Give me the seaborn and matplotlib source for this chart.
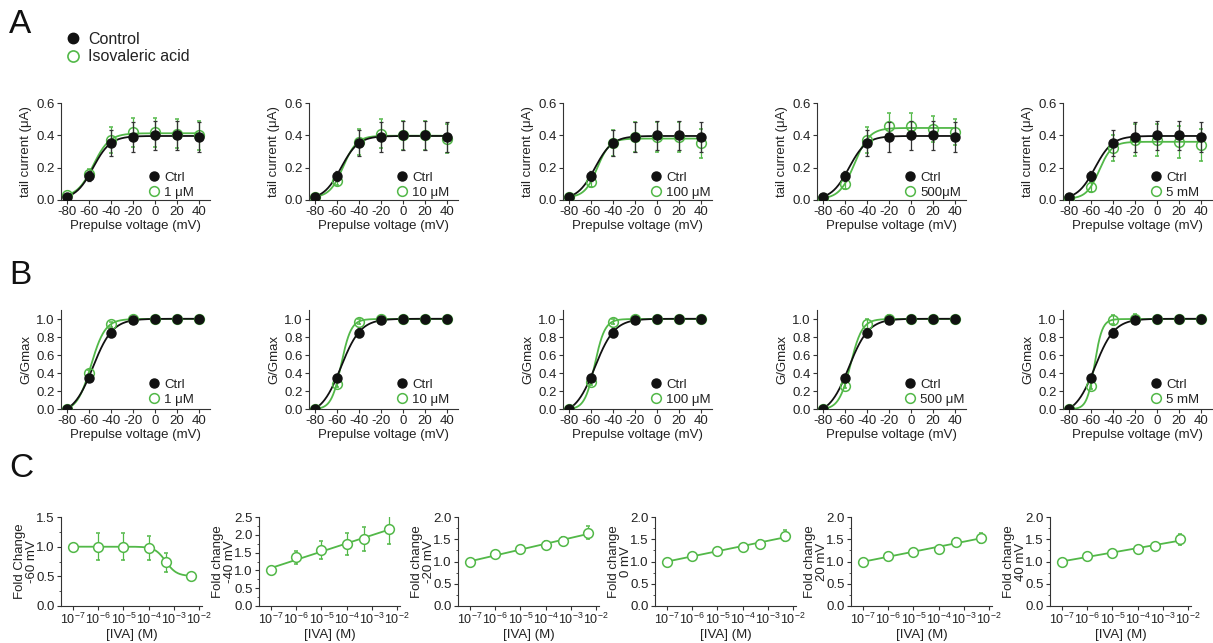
import numpy as np
import pandas as pd
import matplotlib
matplotlib.use("Agg")
import matplotlib.pyplot as plt
from matplotlib.lines import Line2D
from matplotlib.ticker import LogLocator, AutoMinorLocator, FixedLocator, NullFormatter
import seaborn as sns

# ---------------------------------------------------------------- data
VOLTAGES = [-80, -60, -40, -20, 0, 20, 40]

# A: tail currents (uA), mean and SEM
ctrl_current = [0.02, 0.15, 0.35, 0.39, 0.40, 0.40, 0.39]
ctrl_current_err = [0.01, 0.03, 0.08, 0.09, 0.09, 0.09, 0.09]
iva_1uM_current = [0.03, 0.16, 0.37, 0.42, 0.42, 0.41, 0.40]
iva_10uM_current = [0.02, 0.12, 0.36, 0.41, 0.40, 0.40, 0.38]
iva_100uM_current = [0.02, 0.11, 0.35, 0.39, 0.39, 0.39, 0.35]
iva_500uM_current = [0.01, 0.10, 0.37, 0.46, 0.46, 0.44, 0.42]
iva_5mM_current = [0.01, 0.08, 0.32, 0.37, 0.37, 0.36, 0.34]
iva_1uM_current_err = [0.01, 0.03, 0.08, 0.09, 0.09, 0.09, 0.09]
iva_10uM_current_err = [0.01, 0.03, 0.08, 0.09, 0.09, 0.09, 0.09]
iva_100uM_current_err = [0.01, 0.03, 0.08, 0.09, 0.09, 0.09, 0.09]
iva_500uM_current_err = [0.01, 0.03, 0.08, 0.08, 0.08, 0.08, 0.08]
iva_5mM_current_err = [0.01, 0.03, 0.08, 0.10, 0.10, 0.10, 0.10]

# B: normalised conductance
ctrl_g = [0.0, 0.35, 0.85, 0.99, 1.0, 1.0, 1.0]
ctrl_g_err = [0.0, 0.04, 0.05, 0.02, 0.01, 0.0, 0.0]
iva_1uM_g = [0.0, 0.40, 0.94, 1.0, 1.0, 1.0, 1.0]
iva_10uM_g = [0.0, 0.28, 0.97, 1.0, 1.0, 1.0, 1.0]
iva_100uM_g = [0.0, 0.30, 0.97, 1.0, 1.0, 1.0, 1.0]
iva_500uM_g = [0.0, 0.26, 0.94, 1.0, 1.0, 1.0, 1.0]
iva_5mM_g = [0.0, 0.26, 0.99, 1.0, 1.0, 1.0, 1.0]
iva_1uM_g_err = [0.0, 0.03, 0.03, 0.01, 0.0, 0.0, 0.0]
iva_10uM_g_err = [0.0, 0.03, 0.03, 0.02, 0.02, 0.0, 0.0]
iva_100uM_g_err = [0.0, 0.03, 0.03, 0.03, 0.03, 0.0, 0.0]
iva_500uM_g_err = [0.0, 0.03, 0.06, 0.05, 0.02, 0.0, 0.0]
iva_5mM_g_err = [0.0, 0.04, 0.05, 0.06, 0.03, 0.0, 0.0]

A_LABELS = ["1 μM", "10 μM", "100 μM", "500μM", "5 mM"]
B_LABELS = ["1 μM", "10 μM", "100 μM", "500 μM", "5 mM"]

# C: fold change vs isovaleric acid concentration
IVA_CONC = [1e-7, 1e-6, 1e-5, 1e-4, 5e-4, 5e-3]
fold_m60 = [1.0, 1.0, 1.0, 0.98, 0.74, 0.51]
fold_m60_err = [0.0, 0.23, 0.23, 0.20, 0.16, 0.02]
fold_m40 = [1.0, 1.37, 1.58, 1.73, 1.88, 2.16]
fold_m40_err = [0.0, 0.18, 0.25, 0.31, 0.34, 0.43]
fold_m20 = [1.0, 1.16, 1.27, 1.37, 1.47, 1.65]
fold_m20_err = [0.0, 0.03, 0.06, 0.08, 0.09, 0.14]
fold_0 = [1.0, 1.13, 1.24, 1.32, 1.40, 1.58]
fold_0_err = [0.0, 0.03, 0.04, 0.06, 0.08, 0.12]
fold_20 = [1.0, 1.12, 1.21, 1.29, 1.44, 1.53]
fold_20_err = [0.0, 0.03, 0.04, 0.06, 0.08, 0.12]
fold_40 = [1.0, 1.12, 1.20, 1.29, 1.34, 1.50]
fold_40_err = [0.0, 0.03, 0.04, 0.05, 0.06, 0.12]
C_YLABELS = ["Fold Change\n-60 mV", "Fold change\n-40 mV", "Fold change\n-20 mV",
             "Fold change\n0 mV", "Fold change\n20 mV", "Fold change\n40 mV"]
C_YMAX = [1.5, 2.5, 2.0, 2.0, 2.0, 2.0]

# ---------------------------------------------------------------- style
GREEN = "#52b848"
BLACK = "#111111"
TEXT = "#222222"

sns.set_theme(style="ticks")
plt.rcParams["font.family"] = ["Liberation Sans", "DejaVu Sans"]
plt.rcParams.update({
    "axes.unicode_minus": False,
    "mathtext.fontset": "custom",
    "mathtext.rm": "Liberation Sans",
    "mathtext.it": "Liberation Sans:italic",
    "font.size": 9,
    "axes.linewidth": 0.8,
    "axes.edgecolor": "#333333",
    "axes.labelcolor": TEXT,
    "text.color": TEXT,
    "xtick.color": "#333333",
    "ytick.color": "#333333",
    "xtick.labelcolor": TEXT,
    "ytick.labelcolor": TEXT,
    "xtick.major.size": 3,
    "ytick.major.size": 3,
    "xtick.major.width": 0.8,
    "ytick.major.width": 0.8,
    "xtick.major.pad": 1.5,
    "ytick.major.pad": 1.5,
    "xtick.labelsize": 9.5,
    "ytick.labelsize": 9.5,
    "axes.labelsize": 9.5,
})


# ---------------------------------------------------------------- fits
def fit_boltzmann(v, y):
    v = np.asarray(v, float)
    y = np.asarray(y, float)
    v50 = np.arange(-75, -35, 0.2)[:, None, None]
    k = np.arange(2, 16, 0.1)[None, :, None]
    s = 1.0 / (1.0 + np.exp((v50 - v[None, None, :]) / k))
    sm = s.mean(-1)
    ym = y.mean()
    c = ((s - sm[..., None]) * (y - ym)).sum(-1) / ((s - sm[..., None]) ** 2).sum(-1)
    a = ym - c * sm
    resid = ((a[..., None] + c[..., None] * s - y) ** 2).sum(-1)
    i, j = np.unravel_index(resid.argmin(), resid.shape)
    p = (v50[i, 0, 0], k[0, j, 0], a[i, j], c[i, j])
    return lambda x: p[2] + p[3] / (1.0 + np.exp((p[0] - x) / p[1]))


def fit_dose_response(conc, y):
    lx = np.log10(np.asarray(conc, float))
    y = np.asarray(y, float)
    lic = np.arange(-5.5, -1.5, 0.02)[:, None, None]
    h = np.arange(0.3, 4.0, 0.02)[None, :, None]
    s = 1.0 / (1.0 + 10 ** ((lx[None, None, :] - lic) * h))
    sm = s.mean(-1)
    ym = y.mean()
    c = ((s - sm[..., None]) * (y - ym)).sum(-1) / ((s - sm[..., None]) ** 2).sum(-1)
    a = ym - c * sm
    resid = ((a[..., None] + c[..., None] * s - y) ** 2).sum(-1)
    i, j = np.unravel_index(resid.argmin(), resid.shape)
    p = (lic[i, 0, 0], h[0, j, 0], a[i, j], c[i, j])
    return lambda x: p[2] + p[3] / (1.0 + 10 ** ((np.log10(x) - p[0]) * p[1]))


def fit_loglinear(conc, y):
    coef = np.polyfit(np.log10(conc), y, 1)
    return lambda x: np.polyval(coef, np.log10(x))


# ---------------------------------------------------------------- figure
W, H = 1213, 643
fig = plt.figure(figsize=(W / 100, H / 100), dpi=100)


def add_ax(left, top, bottom, width):
    return fig.add_axes([left / W, 1 - bottom / H, width / W, (bottom - top) / H])


def style_axes(ax):
    sns.despine(ax=ax)
    ax.tick_params(direction="out")


ROW_LEFTS = [61, 309, 563, 817, 1063]
v_fine = np.linspace(-80, 40, 300)


def voltage_panel(ax, ctrl, ctrl_err, trt, trt_err, label, ylim, yticks, ylabel, leg_y):
    f_trt = fit_boltzmann(VOLTAGES, trt)
    f_ctrl = fit_boltzmann(VOLTAGES, ctrl)
    sns.lineplot(x=v_fine, y=f_trt(v_fine), ax=ax, color=GREEN, lw=1.3, zorder=2)
    sns.lineplot(x=v_fine, y=f_ctrl(v_fine), ax=ax, color=BLACK, lw=1.3, zorder=3)
    ax.errorbar(VOLTAGES, trt, yerr=trt_err, fmt="o", ms=7, mfc="none", mec=GREEN,
                mew=1.1, ecolor=GREEN, elinewidth=0.9, capsize=1.5, capthick=0.9, zorder=4)
    ax.errorbar(VOLTAGES, ctrl, yerr=ctrl_err, fmt="o", ms=6.5, mfc=BLACK, mec=BLACK,
                ecolor="#333333", elinewidth=0.9, capsize=1.5, capthick=0.9, zorder=5)
    ax.set_xlim(-85, 50)
    ax.set_ylim(*ylim)
    ax.set_xticks(VOLTAGES)
    ax.set_xticklabels([str(v) for v in VOLTAGES])
    ax.set_yticks(yticks)
    ax.set_yticklabels([f"{t:.1f}" for t in yticks])
    ax.set_xlabel("Prepulse voltage (mV)", labelpad=1)
    ax.set_ylabel(ylabel, labelpad=3)
    handles = [
        Line2D([], [], ls="none", marker="o", ms=6.5, mfc=BLACK, mec=BLACK),
        Line2D([], [], ls="none", marker="o", ms=7, mfc="none", mec=GREEN, mew=1.1),
    ]
    ax.legend(handles, ["Ctrl", label], loc="lower left", bbox_to_anchor=(0.52, leg_y),
              frameon=False, handlelength=0.9, handletextpad=0.35, labelspacing=0.2,
              borderpad=0.2, fontsize=9.5)
    style_axes(ax)


# Row A
a_trt = [iva_1uM_current, iva_10uM_current, iva_100uM_current, iva_500uM_current, iva_5mM_current]
a_err = [iva_1uM_current_err, iva_10uM_current_err, iva_100uM_current_err,
         iva_500uM_current_err, iva_5mM_current_err]
for left, trt, err, lab in zip(ROW_LEFTS, a_trt, a_err, A_LABELS):
    ax = add_ax(left, 103, 200, 149)
    voltage_panel(ax, ctrl_current, ctrl_current_err, trt, err, lab,
                  (0, 0.6), [0.0, 0.2, 0.4, 0.6], "tail current (μA)", -0.08)

# Row B
b_trt = [iva_1uM_g, iva_10uM_g, iva_100uM_g, iva_500uM_g, iva_5mM_g]
b_err = [iva_1uM_g_err, iva_10uM_g_err, iva_100uM_g_err, iva_500uM_g_err, iva_5mM_g_err]
for left, trt, err, lab in zip(ROW_LEFTS, b_trt, b_err, B_LABELS):
    ax = add_ax(left, 310, 409, 149)
    voltage_panel(ax, ctrl_g, ctrl_g_err, trt, err, lab,
                  (0, 1.1), [0.0, 0.2, 0.4, 0.6, 0.8, 1.0], "G/Gmax", -0.06)

# Row C
c_vals = [fold_m60, fold_m40, fold_m20, fold_0, fold_20, fold_40]
c_errs = [fold_m60_err, fold_m40_err, fold_m20_err, fold_0_err, fold_20_err, fold_40_err]
C_LEFTS = [61, 259, 458, 655, 851, 1050]
c_fine = np.logspace(-7, np.log10(5e-3), 300)
for idx, (left, vals, errs, ylab, ymax) in enumerate(zip(C_LEFTS, c_vals, c_errs, C_YLABELS, C_YMAX)):
    ax = add_ax(left, 517, 606, 141)
    f = fit_dose_response(IVA_CONC, vals) if idx == 0 else fit_loglinear(IVA_CONC, vals)
    sns.lineplot(x=c_fine, y=f(c_fine), ax=ax, color=GREEN, lw=1.3, zorder=2)
    ax.errorbar(IVA_CONC, vals, yerr=errs, fmt="o", ms=7, mfc="white", mec=GREEN, mew=1.1,
                ecolor=GREEN, elinewidth=0.9, capsize=1.5, capthick=0.9, zorder=4)
    ax.set_xscale("log")
    ax.set_xlim(10 ** -7.48, 10 ** -1.88)
    ax.xaxis.set_major_locator(FixedLocator([10.0 ** e for e in range(-7, -1)]))
    ax.set_xticklabels([f"$10^{{{e}}}$" for e in range(-7, -1)])
    ax.xaxis.set_minor_locator(LogLocator(base=10, subs=np.arange(2, 10)))
    ax.xaxis.set_minor_formatter(NullFormatter())
    ax.set_ylim(0, ymax)
    yt = np.arange(0, ymax + 0.01, 0.5)
    ax.set_yticks(yt)
    ax.set_yticklabels([f"{t:.1f}" for t in yt])
    ax.yaxis.set_minor_locator(AutoMinorLocator(2))
    ax.tick_params(which="minor", length=1.6, width=0.6)
    ax.tick_params(axis="x", which="major", labelsize=9)
    ax.set_xlabel("[IVA] (M)", labelpad=1)
    ax.set_ylabel(ylab, labelpad=-1.5, linespacing=1.0)
    style_axes(ax)

# Panel letters
for letter, base in [("A", 33), ("B", 284), ("C", 477)]:
    fig.text(9 / W, 1 - base / H, letter, fontsize=24, va="baseline", ha="left", color=BLACK)

# Figure legend
legend_handles = [
    Line2D([], [], ls="none", marker="o", ms=7.5, mfc=BLACK, mec=BLACK),
    Line2D([], [], ls="none", marker="o", ms=8, mfc="none", mec=GREEN, mew=1.2),
]
fig.legend(legend_handles, ["Control", "Isovaleric acid"], loc="upper left",
           bbox_to_anchor=(58 / W, 1 - 24 / H), frameon=False, fontsize=11.5,
           handlelength=0.9, handletextpad=0.5, labelspacing=0.15, borderpad=0)

fig.savefig("out.png", dpi=100)
